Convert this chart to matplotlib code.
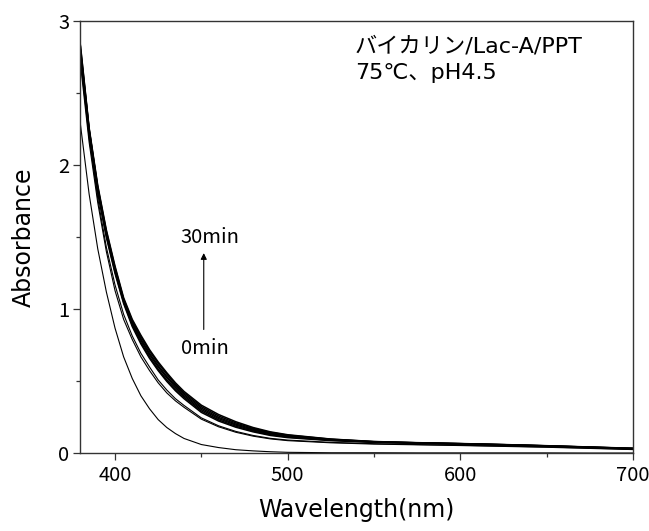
import matplotlib
matplotlib.use("Agg")
import matplotlib.pyplot as plt
from matplotlib import font_manager

# ---------------- data ----------------
wavelength = [380, 385, 390, 395, 400, 405, 410, 415, 420, 425, 430, 435, 440,
              450, 460, 470, 480, 490, 500, 525, 550, 575, 600, 625, 650, 675, 700]

abs_0min = [2.28, 1.80, 1.42, 1.12, 0.87, 0.67, 0.52, 0.40, 0.31, 0.235, 0.18, 0.138, 0.104,
            0.062, 0.041, 0.026, 0.018, 0.012, 0.008, 0.005, 0.005, 0.004, 0.004, 0.004, 0.004, 0.003, 0.003]

abs_c1 = [2.70, 2.16, 1.74, 1.40, 1.13, 0.93, 0.79, 0.67, 0.575, 0.49, 0.42, 0.365, 0.32,
          0.238, 0.185, 0.147, 0.120, 0.101, 0.089, 0.074, 0.065, 0.060, 0.055, 0.049, 0.043, 0.035, 0.027]

abs_c2 = [2.73, 2.19, 1.77, 1.43, 1.17, 0.965, 0.815, 0.695, 0.60, 0.51, 0.44, 0.38, 0.333,
          0.247, 0.192, 0.153, 0.125, 0.105, 0.093, 0.077, 0.068, 0.062, 0.057, 0.051, 0.045, 0.037, 0.029]

abs_b1 = [2.76, 2.22, 1.81, 1.50, 1.25, 1.04, 0.88, 0.76, 0.66, 0.575, 0.50, 0.435, 0.38,
          0.285, 0.225, 0.182, 0.150, 0.125, 0.110, 0.089, 0.077, 0.070, 0.064, 0.057, 0.050, 0.041, 0.032]
abs_b2 = [2.78, 2.23, 1.82, 1.51, 1.26, 1.05, 0.89, 0.77, 0.67, 0.585, 0.51, 0.447, 0.39,
          0.295, 0.233, 0.189, 0.156, 0.130, 0.114, 0.092, 0.079, 0.072, 0.066, 0.059, 0.051, 0.042, 0.033]
abs_b3 = [2.79, 2.24, 1.83, 1.52, 1.27, 1.06, 0.90, 0.785, 0.685, 0.60, 0.525, 0.46, 0.40,
          0.305, 0.242, 0.197, 0.162, 0.136, 0.119, 0.095, 0.080, 0.073, 0.067, 0.060, 0.052, 0.043, 0.034]
abs_b4 = [2.80, 2.25, 1.84, 1.53, 1.28, 1.065, 0.91, 0.795, 0.695, 0.61, 0.535, 0.47, 0.41,
          0.315, 0.250, 0.204, 0.168, 0.141, 0.123, 0.097, 0.081, 0.074, 0.068, 0.061, 0.053, 0.044, 0.035]
abs_b5 = [2.82, 2.25, 1.85, 1.54, 1.29, 1.07, 0.92, 0.81, 0.71, 0.625, 0.55, 0.48, 0.42,
          0.325, 0.260, 0.212, 0.174, 0.146, 0.127, 0.099, 0.082, 0.074, 0.068, 0.061, 0.053, 0.044, 0.035]
abs_b6 = [2.83, 2.26, 1.86, 1.55, 1.30, 1.08, 0.93, 0.82, 0.72, 0.635, 0.56, 0.49, 0.43,
          0.335, 0.270, 0.220, 0.180, 0.150, 0.130, 0.100, 0.083, 0.075, 0.069, 0.062, 0.054, 0.045, 0.036]

thin_curves = [abs_0min, abs_c1, abs_c2]
bundle_curves = [abs_b1, abs_b2, abs_b3, abs_b4, abs_b5, abs_b6]

x_ticks = [400, 500, 600, 700]
y_ticks = [0, 1, 2, 3]
title_lines = ["バイカリン/Lac-A/PPT", "75℃、pH4.5"]
arrow_labels = ["30min", "0min"]

# ---------------- fonts ----------------
names = {f.name for f in font_manager.fontManager.ttflist}
tick_font = "Liberation Sans Narrow" if "Liberation Sans Narrow" in names else "Noto Sans CJK JP"
tick_size = 18 if tick_font == "Liberation Sans Narrow" else 14.5

# ---------------- figure ----------------
fig = plt.figure(figsize=(6.49, 5.31), dpi=100)
ax = fig.add_axes([0.124, 0.146, 0.8513, 0.8145])

for c in thin_curves:
    ax.plot(wavelength, c, color="black", lw=0.8)
for c in bundle_curves:
    ax.plot(wavelength, c, color="black", lw=1.1)

ax.set_xlim(380, 700)
ax.set_ylim(0, 3)
ax.set_xticks(x_ticks)
ax.set_yticks(y_ticks)
ax.set_xticks([450, 550, 650], minor=True)
ax.set_yticks([0.5, 1.5, 2.5], minor=True)
ax.tick_params(which="major", direction="out", length=5, width=0.9, pad=3, color="#333333")
ax.tick_params(which="minor", direction="out", length=3, width=0.9, color="#333333")
ax.tick_params(top=False, right=False)
for lab in ax.get_xticklabels() + ax.get_yticklabels():
    lab.set_fontfamily(tick_font)
    lab.set_fontsize(tick_size)
for s in ax.spines.values():
    s.set_linewidth(1.0)
    s.set_color("#333333")

ax.set_xlabel("Wavelength(nm)", fontsize=17, family="DejaVu Sans", labelpad=9)
ax.set_ylabel("Absorbance", fontsize=17, family="DejaVu Sans", labelpad=16)

# annotation
ax.text(0.497, 0.926, title_lines[0], transform=ax.transAxes, fontsize=16,
        family=["DejaVu Sans", "Noto Sans CJK JP"], ha="left", va="baseline")
ax.text(0.497, 0.866, title_lines[1], transform=ax.transAxes, fontsize=16,
        family=["DejaVu Sans", "Noto Sans CJK JP"], ha="left", va="baseline")

ax.annotate("", xy=(451.4, 1.39), xytext=(451.4, 0.86),
            arrowprops=dict(arrowstyle="-|>", lw=0.8, color="black", mutation_scale=9,
                            shrinkA=0, shrinkB=0))
ax.text(454.8, 1.50, arrow_labels[0], fontsize=14.5, family="Noto Sans CJK JP",
        ha="center", va="center")
ax.text(452.0, 0.73, arrow_labels[1], fontsize=14.5, family="Noto Sans CJK JP",
        ha="center", va="center")

fig.savefig("out.png", dpi=100)
